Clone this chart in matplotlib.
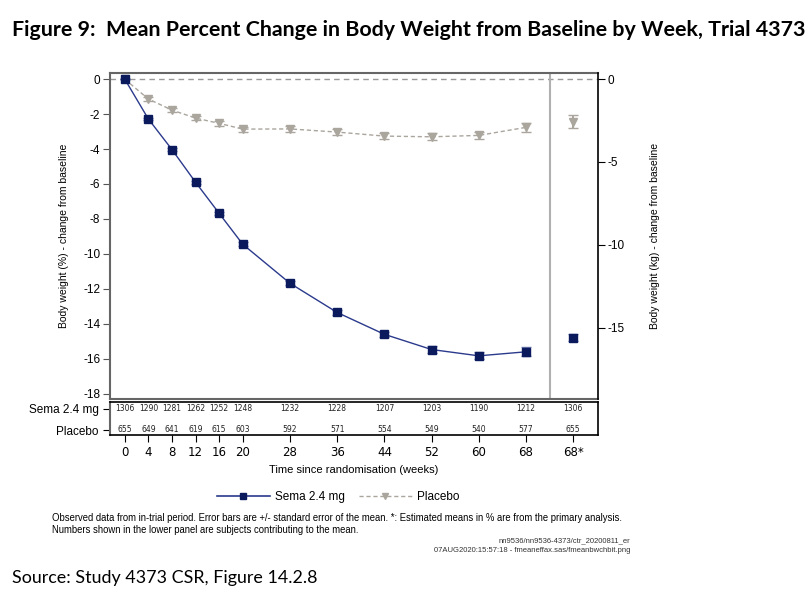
import matplotlib
matplotlib.use("Agg")
from matplotlib import pyplot as plt
from matplotlib.lines import Line2D

# observed weeks, plus the estimated 68* point drawn at position 76
weeks = [0, 4, 8, 12, 16, 20, 28, 36, 44, 52, 60, 68]
est_pos = 76
tick_pos = weeks + [est_pos]
tick_labels = [str(w) for w in weeks] + ["68*"]

sema_mean = [0, -2.28, -4.03, -5.9, -7.68, -9.45, -11.68, -13.35, -14.6, -15.47, -15.83, -15.6]
sema_se = [0, 0.08, 0.09, 0.1, 0.1, 0.11, 0.12, 0.14, 0.16, 0.19, 0.2, 0.25]
sema_est, sema_est_se = -14.8, 0.2

pbo_mean = [0, -1.14, -1.77, -2.23, -2.53, -2.86, -2.85, -3.03, -3.26, -3.3, -3.22, -2.76]
pbo_se = [0, 0.09, 0.1, 0.12, 0.13, 0.14, 0.16, 0.17, 0.19, 0.2, 0.21, 0.26]
pbo_est, pbo_est_se = -2.44, 0.38

sema_n = [1306, 1290, 1281, 1262, 1252, 1248, 1232, 1228, 1207, 1203, 1190, 1212, 1306]
pbo_n = [655, 649, 641, 619, 615, 603, 592, 571, 554, 549, 540, 577, 655]

navy = "#0b1a5c"
navy_line = "#2b3a8c"
grey = "#aaa59d"

plt.rcParams['font.family'] = ['Liberation Sans', 'DejaVu Sans']

fig = plt.figure(figsize=(8.1, 5.97), dpi=100)
W, H = 810, 597


def box(l, t, r, b):
    return [l / W, 1 - b / H, (r - l) / W, (b - t) / H]


ax = fig.add_axes(box(110, 73, 598, 399))
tab = fig.add_axes(box(110, 402, 598, 435))

xmin, xmax = -2.5, 80.2
ymin, ymax = -18.3, 0.35
kg_factor = 1.0556

# reference line at zero and separator before the estimated point
ax.axhline(0, color="#9a9a9a", lw=1, ls=(0, (4, 3)), zorder=1)
ax.axvline(72, color="#b0b0b0", lw=1.5, zorder=1)

ax.errorbar(weeks, pbo_mean, yerr=pbo_se, color=grey, lw=1, ls=(0, (3, 2)),
            marker="v", ms=6, mec=grey, mfc=grey, ecolor=grey, capsize=3.5, zorder=2)
ax.errorbar([est_pos], [pbo_est], yerr=[pbo_est_se], color=grey, ls="none",
            marker="v", ms=6, ecolor=grey, capsize=3.5, zorder=2)
ax.errorbar(weeks, sema_mean, yerr=sema_se, color=navy_line, lw=1,
            marker="s", ms=5.5, mec=navy, mfc=navy, ecolor="#6c78b0", capsize=3.5, zorder=3)
ax.errorbar([est_pos], [sema_est], yerr=[sema_est_se], color=navy, ls="none",
            marker="s", ms=5.5, ecolor="#6c78b0", capsize=3.5, zorder=3)

ax.set_xlim(xmin, xmax)
ax.set_ylim(ymin, ymax)
ax.set_yticks(range(0, -19, -2))
ax.set_yticklabels([str(v) for v in range(0, -19, -2)], fontsize=8.5)
ax.set_xticks([])
ax.tick_params(axis="y", direction="out", length=5, color="#555555", pad=2)
ax.set_ylabel("Body weight (%) - change from baseline", fontsize=7.5, labelpad=10)
for s in ["left", "bottom", "top"]:
    ax.spines[s].set_color("#666666")
    ax.spines[s].set_linewidth(1.5)
ax.spines["right"].set_visible(False)

ax2 = ax.twinx()
ax2.set_ylim(ymin * kg_factor, ymax * kg_factor)
ax2.set_yticks([0, -5, -10, -15])
ax2.set_yticklabels(["0", "-5", "-10", "-15"], fontsize=8.5)
ax2.tick_params(axis="y", direction="out", length=5, pad=2)
ax2.set_ylabel("Body weight (kg) - change from baseline", fontsize=7.5, labelpad=18)
for s in ["left", "bottom", "top"]:
    ax2.spines[s].set_visible(False)
ax2.spines["right"].set_linewidth(1.2)

# lower panel with subject counts
tab.set_xlim(xmin, xmax)
tab.set_ylim(0, 1)
for x, n1, n2 in zip(tick_pos, sema_n, pbo_n):
    tab.text(x, 0.80, str(n1), ha="center", va="center", fontsize=5.5, family="DejaVu Sans", color="#222222")
    tab.text(x, 0.17, str(n2), ha="center", va="center", fontsize=5.5, family="DejaVu Sans", color="#222222")
tab.set_yticks([0.80, 0.15])
tab.set_yticklabels(["Sema 2.4 mg", "Placebo"], fontsize=8.5)
tab.set_xticks(tick_pos)
tab.set_xticklabels(tick_labels, fontsize=8.5, family="DejaVu Sans")
tab.tick_params(axis="both", direction="out", length=5, pad=3)
for s in tab.spines.values():
    s.set_linewidth(1.2)
tab.spines["left"].set_color("#666666")
tab.spines["left"].set_linewidth(1.5)

fig.text(354 / W, 1 - 470 / H, "Time since randomisation (weeks)", ha="center", va="center", fontsize=8)

handles = [
    Line2D([], [], color=navy_line, lw=1.2, marker="s", ms=5, mfc=navy, mec=navy),
    Line2D([], [], color=grey, lw=1, ls=(0, (3, 2)), marker="v", ms=5, mfc=grey, mec=grey),
]
fig.legend(handles, ["Sema 2.4 mg", "Placebo"], loc="center", bbox_to_anchor=(338 / W, 1 - 497 / H),
           ncol=2, frameon=False, fontsize=8.5, handlelength=4.5, columnspacing=1.2, handletextpad=0.4)

fig.text(52 / W, 1 - 518 / H,
         "Observed data from in-trial period. Error bars are +/- standard error of the mean. "
         "*: Estimated means in % are from the primary analysis.", fontsize=6.85, va="center")
fig.text(52 / W, 1 - 530 / H, "Numbers shown in the lower panel are subjects contributing to the mean.",
         fontsize=6.85, va="center")
fig.text(630 / W, 1 - 541 / H, "nn9536/nn9536-4373/ctr_20200811_er", fontsize=5.5, ha="right", va="center", color="#333333")
fig.text(630 / W, 1 - 551 / H, "07AUG2020:15:57:18 - fmeaneffax.sas/fmeanbwchbit.png", fontsize=5.5,
         ha="right", va="center", color="#333333")

fig.text(12 / W, 1 - 30 / H, "Figure 9:  Mean Percent Change in Body Weight from Baseline by Week, Trial 4373",
         fontsize=15.4, fontweight="bold", family="Lato", va="center")
fig.text(12 / W, 1 - 578 / H, "Source: Study 4373 CSR, Figure 14.2.8", fontsize=12.9, family="Lato", va="center")

fig.savefig("out.png", dpi=100)
